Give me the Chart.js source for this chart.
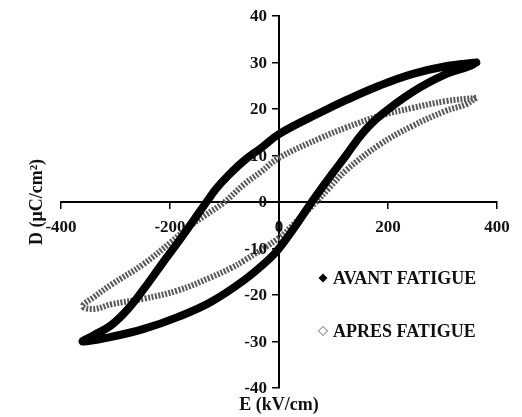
<!DOCTYPE html>
<html>
<head>
<meta charset="utf-8">
<script src="https://cdn.jsdelivr.net/npm/chart.js@4.4.0/dist/chart.umd.min.js"></script>
<style>
    html, body { margin: 0; padding: 0; background: #fff; }
</style>
</head>
<body>
<canvas id="loopChart" width="522" height="417"></canvas>
<script>
// Avant fatigue loop: upper branch (tip -> tip), then lower branch back
const avantE = [362, 306, 244, 184, 123, 77, 0, -33, -64, -94, -115, -133, -185, -216, -248, -277, -308, -339, -360,
                -308, -248, -185, -125, -64, -20, 0, 30, 60, 92, 123, 152, 184, 244, 306, 349, 362];
const avantD = [30, 29.2, 27.5, 25, 21.9, 19.3, 14.6, 11.6, 8.9, 5.6, 2.9, 0, -8.6, -13.5, -18.7, -23, -26.5, -28.6, -30,
                -29, -27.3, -24.7, -21.5, -16.8, -12.5, -10, -5.2, 0, 5.2, 10, 14.6, 18.4, 23.6, 27.5, 29.2, 30];

// Apres fatigue loop
const apresE = [362, 306, 244, 184, 123, 77, 0, -33, -64, -100, -137, -167, -198, -248, -308, -339, -360,
                -339, -308, -248, -185, -125, -88, -64, 0, 31, 68, 92, 123, 184, 244, 306, 343, 362];
const apresD = [22.4, 21.7, 20.2, 18.5, 16, 13.8, 9.5, 6.5, 3.8, 0, -3, -5.5, -8.6, -13.3, -17.8, -20.4, -22.4,
                -23, -22, -20.8, -19, -16.2, -14.2, -12.6, -7.7, -4.3, 0, 3, 6.8, 12.3, 16.3, 19.6, 21, 22.4];

const xTicks = [-400, -200, 0, 200, 400];
const yTicks = [-40, -30, -20, -10, 0, 10, 20, 30, 40];
const seriesLabels = ['AVANT FATIGUE', 'APRES FATIGUE'];
const xTitle = 'E (kV/cm)';
const yTitle = 'D (μC/cm²)';

const serif = "'Liberation Serif', 'Times New Roman', serif";

function toPoints(xs, ys) {
    return xs.map((x, i) => ({ x: x, y: ys[i] }));
}

// Y tick labels, axis titles and the legend are drawn here, as in the original figure
const overlayPlugin = {
    id: 'overlay',
    afterDraw(chart) {
        const ctx = chart.ctx;
        const xs = chart.scales.x;
        const ys = chart.scales.y;
        const axisX = xs.getPixelForValue(0);
        ctx.save();
        ctx.fillStyle = '#111';

        // y labels to the left of the crossing axis
        ctx.font = 'bold 17px ' + serif;
        ctx.textAlign = 'right';
        ctx.textBaseline = 'middle';
        ys.ticks.forEach(t => {
            ctx.fillText(String(t.value), axisX - 12, ys.getPixelForValue(t.value) + 1);
        });

        ctx.font = 'bold 18px ' + serif;
        ctx.textAlign = 'center';
        ctx.fillText(xTitle, axisX, 405);

        ctx.save();
        ctx.translate(37, ys.getPixelForValue(0));
        ctx.rotate(-Math.PI / 2);
        ctx.fillText(yTitle, 0, 0);
        ctx.restore();

        // legend
        const rows = [278, 331];
        ctx.textAlign = 'left';
        chart.data.datasets.forEach((ds, i) => {
            const cy = rows[i];
            const cx = 323;
            const r = 4.5;
            ctx.beginPath();
            ctx.moveTo(cx, cy - r);
            ctx.lineTo(cx + r, cy);
            ctx.lineTo(cx, cy + r);
            ctx.lineTo(cx - r, cy);
            ctx.closePath();
            if (i === 0) {
                ctx.fillStyle = '#000';
                ctx.fill();
            } else {
                ctx.fillStyle = '#fff';
                ctx.fill();
                ctx.strokeStyle = '#666';
                ctx.lineWidth = 1;
                ctx.stroke();
            }
            ctx.fillStyle = '#111';
            ctx.fillText(ds.label, 333, cy + 1);
        });
        ctx.restore();
    }
};

const ctx = document.getElementById('loopChart').getContext('2d');
new Chart(ctx, {
    type: 'scatter',
    data: {
        datasets: [
            {
                label: seriesLabels[0],
                data: toPoints(avantE, avantD),
                showLine: true,
                borderColor: '#000',
                borderWidth: 8,
                pointRadius: 0,
                tension: 0.4,
                borderCapStyle: 'round',
                borderJoinStyle: 'round'
            },
            {
                label: seriesLabels[1],
                data: toPoints(apresE, apresD),
                showLine: true,
                borderColor: '#5a5a5a',
                borderWidth: 6,
                borderDash: [2, 1.5],
                pointRadius: 0,
                tension: 0.4
            }
        ]
    },
    options: {
        responsive: false,
        animation: false,
        layout: { padding: { left: 61, right: 25, top: 16, bottom: 29 } },
        plugins: {
            legend: { display: false },
            tooltip: { enabled: false }
        },
        scales: {
            x: {
                type: 'linear',
                position: { y: 0 },
                min: xTicks[0],
                max: xTicks[xTicks.length - 1],
                afterBuildTicks: (scale) => { scale.ticks = xTicks.map(v => ({ value: v })); },
                grid: { drawOnChartArea: false, color: '#000', lineWidth: 1.5, tickLength: 6 },
                border: { color: '#000', width: 2 },
                ticks: {
                    color: '#111',
                    padding: 9,
                    maxRotation: 0,
                    font: { family: serif, size: 17, weight: 'bold' }
                }
            },
            y: {
                type: 'linear',
                position: { x: 0 },
                min: yTicks[0],
                max: yTicks[yTicks.length - 1],
                afterBuildTicks: (scale) => { scale.ticks = yTicks.map(v => ({ value: v })); },
                grid: { drawOnChartArea: false, color: '#000', lineWidth: 1.5, tickLength: 6 },
                border: { color: '#000', width: 2 },
                ticks: { display: false }
            }
        }
    },
    plugins: [overlayPlugin]
});
</script>
</body>
</html>
